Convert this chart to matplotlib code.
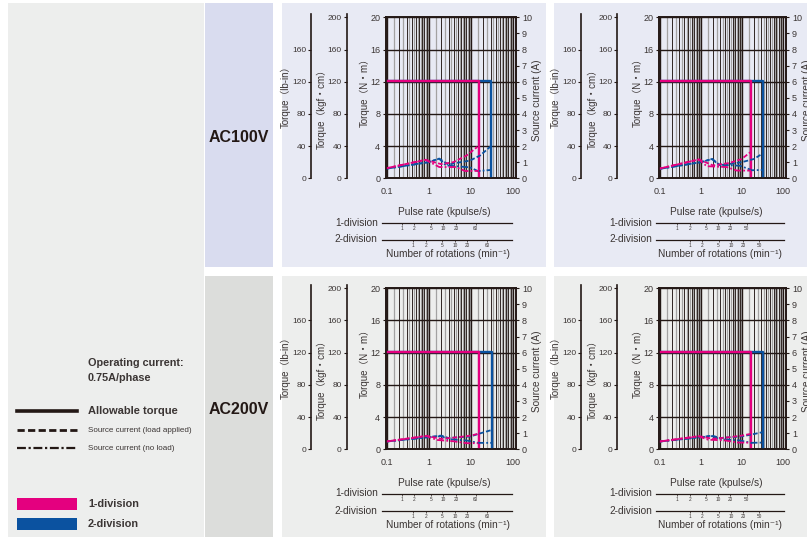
import matplotlib.pyplot as plt
from matplotlib.patches import Rectangle
from matplotlib.lines import Line2D
from matplotlib.ticker import LogLocator, NullLocator, NullFormatter

plt.rcParams['font.family'] = ['Liberation Sans', 'DejaVu Sans', 'Noto Sans CJK JP']

# ---- data ----
voltages = ['AC100V', 'AC200V']
rate_ticks = [0.1, 1, 10, 100]
rate_labels = ['0.1', '1', '10', '100']
nm_ticks = [0, 4, 8, 12, 16, 20]
kgf_ticks = [0, 40, 80, 120, 160, 200]
lbin_ticks = [0, 40, 80, 120, 160]
amp_ticks = list(range(11))
rot_ticks_left = [1, 2, 5, 10, 20, 60]
rot_ticks_right = [1, 2, 5, 10, 20, 50]

low_rate = 0.09
allow_torque = [12.1, 12.1, 0]            # N.m
max_rate_1div = [[16, 17], [15.5, 16.7]]  # [row][col] kpulse/s
max_rate_2div = [[31, 34], [32, 34]]

# source current curves: (pulse rate kpulse/s, current A)
ac100_a_load1 = ([0.09, 0.85, 2.0, 3.9, 8.1, 14.5], [0.6, 1.15, 0.88, 1.0, 1.42, 1.95])
ac100_a_noload1 = ([0.09, 0.85, 1.8, 4.5, 7.4, 16], [0.6, 1.15, 0.7, 0.7, 0.45, 0.46])
ac100_a_load2 = ([0.09, 1, 1.8, 3.0, 4.5, 9.7, 17, 30], [0.58, 1.0, 1.22, 0.85, 0.95, 1.1, 1.42, 1.98])
ac100_a_noload2 = ([0.09, 1, 1.8, 2.6, 5.6, 9.7, 15, 31], [0.58, 1.0, 1.22, 0.8, 0.73, 0.68, 0.45, 0.52])

ac100_b_load1 = ([0.09, 0.9, 2.0, 5, 10, 16.5], [0.58, 1.17, 0.8, 0.95, 1.2, 1.63])
ac100_b_noload1 = ([0.09, 0.9, 1.4, 4.3, 7.6, 17], [0.58, 1.17, 0.75, 0.7, 0.48, 0.48])
ac100_b_load2 = ([0.09, 1, 1.9, 3, 10, 20, 33], [0.57, 1.0, 1.2, 0.8, 1.0, 1.2, 1.55])
ac100_b_noload2 = ([0.09, 1, 1.9, 2.7, 9.1, 17.8, 34], [0.57, 1.0, 1.2, 0.85, 0.78, 0.5, 0.52])

ac200_a_load1 = ([0.09, 0.9, 2, 5, 10, 14.5], [0.47, 0.84, 0.65, 0.75, 0.85, 0.95])
ac200_a_noload1 = ([0.09, 0.9, 1.6, 3.9, 8, 15.3], [0.47, 0.82, 0.58, 0.5, 0.38, 0.38])
ac200_a_load2 = ([0.09, 1, 2, 3, 10, 17, 31], [0.47, 0.76, 0.85, 0.7, 0.8, 0.99, 1.19])
ac200_a_noload2 = ([0.09, 1, 2, 3, 8, 15, 32], [0.47, 0.75, 0.82, 0.62, 0.55, 0.4, 0.4])

ac200_b_load1 = ([0.09, 0.9, 2, 5, 10, 16], [0.47, 0.82, 0.65, 0.75, 0.85, 0.95])
ac200_b_noload1 = ([0.09, 0.9, 1.5, 4, 8, 16.7], [0.47, 0.8, 0.6, 0.55, 0.42, 0.41])
ac200_b_load2 = ([0.09, 1, 1.9, 3, 10, 20, 33], [0.47, 0.76, 0.85, 0.7, 0.8, 0.95, 1.07])
ac200_b_noload2 = ([0.09, 1, 1.9, 3, 9, 17, 34], [0.47, 0.75, 0.82, 0.62, 0.55, 0.4, 0.42])

# ---- style / layout ----
W, H = 807, 537
INK = '#231815'
TXT = '#3b3534'
MAG = '#e4007f'
BLU = '#0b52a0'
GRAY_LINE = '#a3a2a2'
LOAD_LS = (0, (2.6, 1.2))
NOLOAD_LS = (0, (4, 1.2, 1, 1.2))

box_x = [385.7, 659.0]
box_w = [130.0, 126.7]
box_y = [17.3, 288.3]
box_h = 161.0
kgf_x = [346.7, 617.3]
lbin_x = [311.0, 581.0]
scale_x = [381.7, 656.0]
scale_w = [130.0, 128.0]
rot_ticks = [rot_ticks_left, rot_ticks_right]
rot_lim_1 = [(0.33, 441), (0.30, 414)]
rot_lim_2 = [(0.174, 232), (0.147, 201)]
xlim = (0.0957, 119)
half_lines = [d * (k + 0.5) for d in (0.1, 1, 10) for k in range(1, 10)]

fig = plt.figure(figsize=(W / 100, H / 100), dpi=100)


def fr(x, y, w, h):
    return [x / W, 1 - (y + h) / H, w / W, h / H]


def block(x, y, w, h, color):
    fig.add_artist(Rectangle((x / W, 1 - (y + h) / H), w / W, h / H,
                             transform=fig.transFigure, facecolor=color,
                             edgecolor='none', zorder=-5))


def ftext(x, y, s, **kw):
    kw.setdefault('color', TXT)
    fig.text(x / W, 1 - y / H, s, **kw)


# background blocks
block(8, 3, 196, 534, '#edeeed')
block(205, 3, 68, 264, '#d9dcef')
block(205, 276, 68, 261, '#dcdddb')
for bx, bw in [(282, 264), (554, 253)]:
    block(bx, 3, bw, 264, '#e8eaf4')
    block(bx, 276, bw, 261, '#edeeed')

ftext(239, 137, voltages[0], ha='center', va='center', fontsize=11.5, fontweight='bold', color=INK)
ftext(239, 410, voltages[1], ha='center', va='center', fontsize=11.5, fontweight='bold', color=INK)


def side_axis(x, y0, ticks):
    e = fig.add_axes(fr(x, y0 - 3.3, 1, box_h + 3.3))
    e.set_facecolor('none')
    e.set_ylim(0, 200 * (box_h + 3.3) / box_h)
    e.set_xticks([])
    e.set_yticks(ticks)
    for s in ['right', 'top', 'bottom']:
        e.spines[s].set_visible(False)
    e.spines['left'].set_color(INK)
    e.spines['left'].set_linewidth(1.2)
    e.tick_params(axis='y', length=2, width=0.8, color=INK, pad=1.5,
                  labelsize=6, labelcolor=TXT)


def draw_panel(row, col, load1, noload1, load2, noload2):
    x0, y0, bw = box_x[col], box_y[row], box_w[col]
    ax = fig.add_axes(fr(x0, y0, bw, box_h))
    ax.set_facecolor('none')
    ax.set_xscale('log')
    ax.set_xlim(*xlim)
    ax.set_ylim(0, 20)
    ax.set_xticks(rate_ticks, labels=rate_labels)
    ax.xaxis.set_minor_locator(LogLocator(base=10, subs=range(2, 10), numticks=20))
    ax.xaxis.set_minor_formatter(NullFormatter())
    ax.set_yticks(nm_ticks)
    ax.grid(which='major', axis='x', color=INK, lw=1.0)
    ax.grid(which='minor', axis='x', color=INK, lw=0.65)
    ax.grid(which='major', axis='y', color=INK, lw=1.0)
    ax.vlines(half_lines, 0, 20, color=GRAY_LINE, lw=0.9, zorder=0.5)
    ax.tick_params(axis='x', which='both', length=0, pad=6, labelsize=6.5, labelcolor=TXT)
    ax.tick_params(axis='y', length=2, width=0.8, color=INK, pad=2,
                   labelsize=6.5, labelcolor=TXT)
    for s in ax.spines.values():
        s.set_color(INK)
        s.set_linewidth(1.2)

    # allowable torque
    m2 = max_rate_2div[row][col]
    m1 = max_rate_1div[row][col]
    ax.plot([low_rate, m2, m2], allow_torque, color=BLU, lw=1.7, zorder=3)
    ax.plot([low_rate, m1, m1], allow_torque, color=MAG, lw=1.7, zorder=3)

    # source current on right axis
    ax2 = ax.twinx()
    ax2.set_ylim(0, 10)
    ax2.set_yticks(amp_ticks)
    ax2.tick_params(axis='y', length=2.5, width=0.8, color=INK, pad=2,
                    labelsize=6.5, labelcolor=TXT)
    for s in ax2.spines.values():
        s.set_color(INK)
        s.set_linewidth(1.2)
    ax2.plot(*noload2, color=BLU, lw=1.3, ls=NOLOAD_LS)
    ax2.plot(*load2, color=BLU, lw=1.3, ls=LOAD_LS)
    ax2.plot(*noload1, color=MAG, lw=1.3, ls=NOLOAD_LS)
    ax2.plot(*load1, color=MAG, lw=1.3, ls=LOAD_LS)

    # extra torque scales
    side_axis(kgf_x[col], y0, kgf_ticks)
    side_axis(lbin_x[col], y0, lbin_ticks)

    ftext(lbin_x[col] - 25, y0 + 77, 'Torque（lb-in）', rotation=90,
          ha='center', va='center', fontsize=7)
    ftext(kgf_x[col] - 25, y0 + 89, 'Torque（kgf・cm）', rotation=90,
          ha='center', va='center', fontsize=7)
    ftext(x0 - 21, y0 + 73, 'Torque（N・m）', rotation=90,
          ha='center', va='center', fontsize=7)
    ftext(x0 + bw + 21, y0 + 83, 'Source current (A)', rotation=90,
          ha='center', va='center', fontsize=7.2)

    # rotation speed scales
    cx = x0 + bw / 2
    ftext(cx - 6, y0 + 194.7, 'Pulse rate (kpulse/s)', ha='center', va='center', fontsize=7.3)
    for k, (lim, yl) in enumerate([(rot_lim_1[col], y0 + 205.2), (rot_lim_2[col], y0 + 222.2)]):
        s = fig.add_axes(fr(scale_x[col], yl - 1, scale_w[col], 1))
        s.set_facecolor('none')
        s.set_xscale('log')
        s.set_xlim(*lim)
        s.set_xticks(rot_ticks[col], labels=[str(r) for r in rot_ticks[col]])
        s.xaxis.set_minor_locator(NullLocator())
        s.set_yticks([])
        for sp in ['top', 'left', 'right']:
            s.spines[sp].set_visible(False)
        s.spines['bottom'].set_color(INK)
        s.spines['bottom'].set_linewidth(0.9)
        s.tick_params(axis='x', length=1.5, width=0.5, color=INK, pad=1,
                      labelsize=3.4, labelcolor=TXT)
        ftext(scale_x[col] - 4, yl, f'{k + 1}-division', ha='right', va='center', fontsize=7.3)
    ftext(cx - 2.5, y0 + 237, 'Number of rotations (min⁻¹)', ha='center', va='center', fontsize=7.3)


draw_panel(0, 0, ac100_a_load1, ac100_a_noload1, ac100_a_load2, ac100_a_noload2)
draw_panel(0, 1, ac100_b_load1, ac100_b_noload1, ac100_b_load2, ac100_b_noload2)
draw_panel(1, 0, ac200_a_load1, ac200_a_noload1, ac200_a_load2, ac200_a_noload2)
draw_panel(1, 1, ac200_b_load1, ac200_b_noload1, ac200_b_load2, ac200_b_noload2)

# legend in the left column
ftext(88, 363, 'Operating current:', ha='left', va='center', fontsize=7.8, fontweight='bold')
ftext(88, 378, '0.75A/phase', ha='left', va='center', fontsize=7.8, fontweight='bold')
legend_rows = [(411, '-', 2.6, 'Allowable torque', 8, 'bold'),
               (430, LOAD_LS, 2.0, 'Source current (load applied)', 5.8, 'normal'),
               (448, NOLOAD_LS, 1.6, 'Source current (no load)', 5.8, 'normal')]
for y, ls, lw, label, fs, fw in legend_rows:
    fig.add_artist(Line2D([17 / W, 77 / W], [1 - y / H, 1 - y / H], transform=fig.transFigure,
                          color=INK, lw=lw, ls=ls))
    ftext(88, y, label, ha='left', va='center', fontsize=fs, fontweight=fw)
block(17, 498, 60, 12, MAG)
block(17, 518, 60, 12, BLU)
ftext(88, 504, '1-division', ha='left', va='center', fontsize=7.8, fontweight='bold')
ftext(88, 524, '2-division', ha='left', va='center', fontsize=7.8, fontweight='bold')

fig.savefig('out.png', dpi=100)
